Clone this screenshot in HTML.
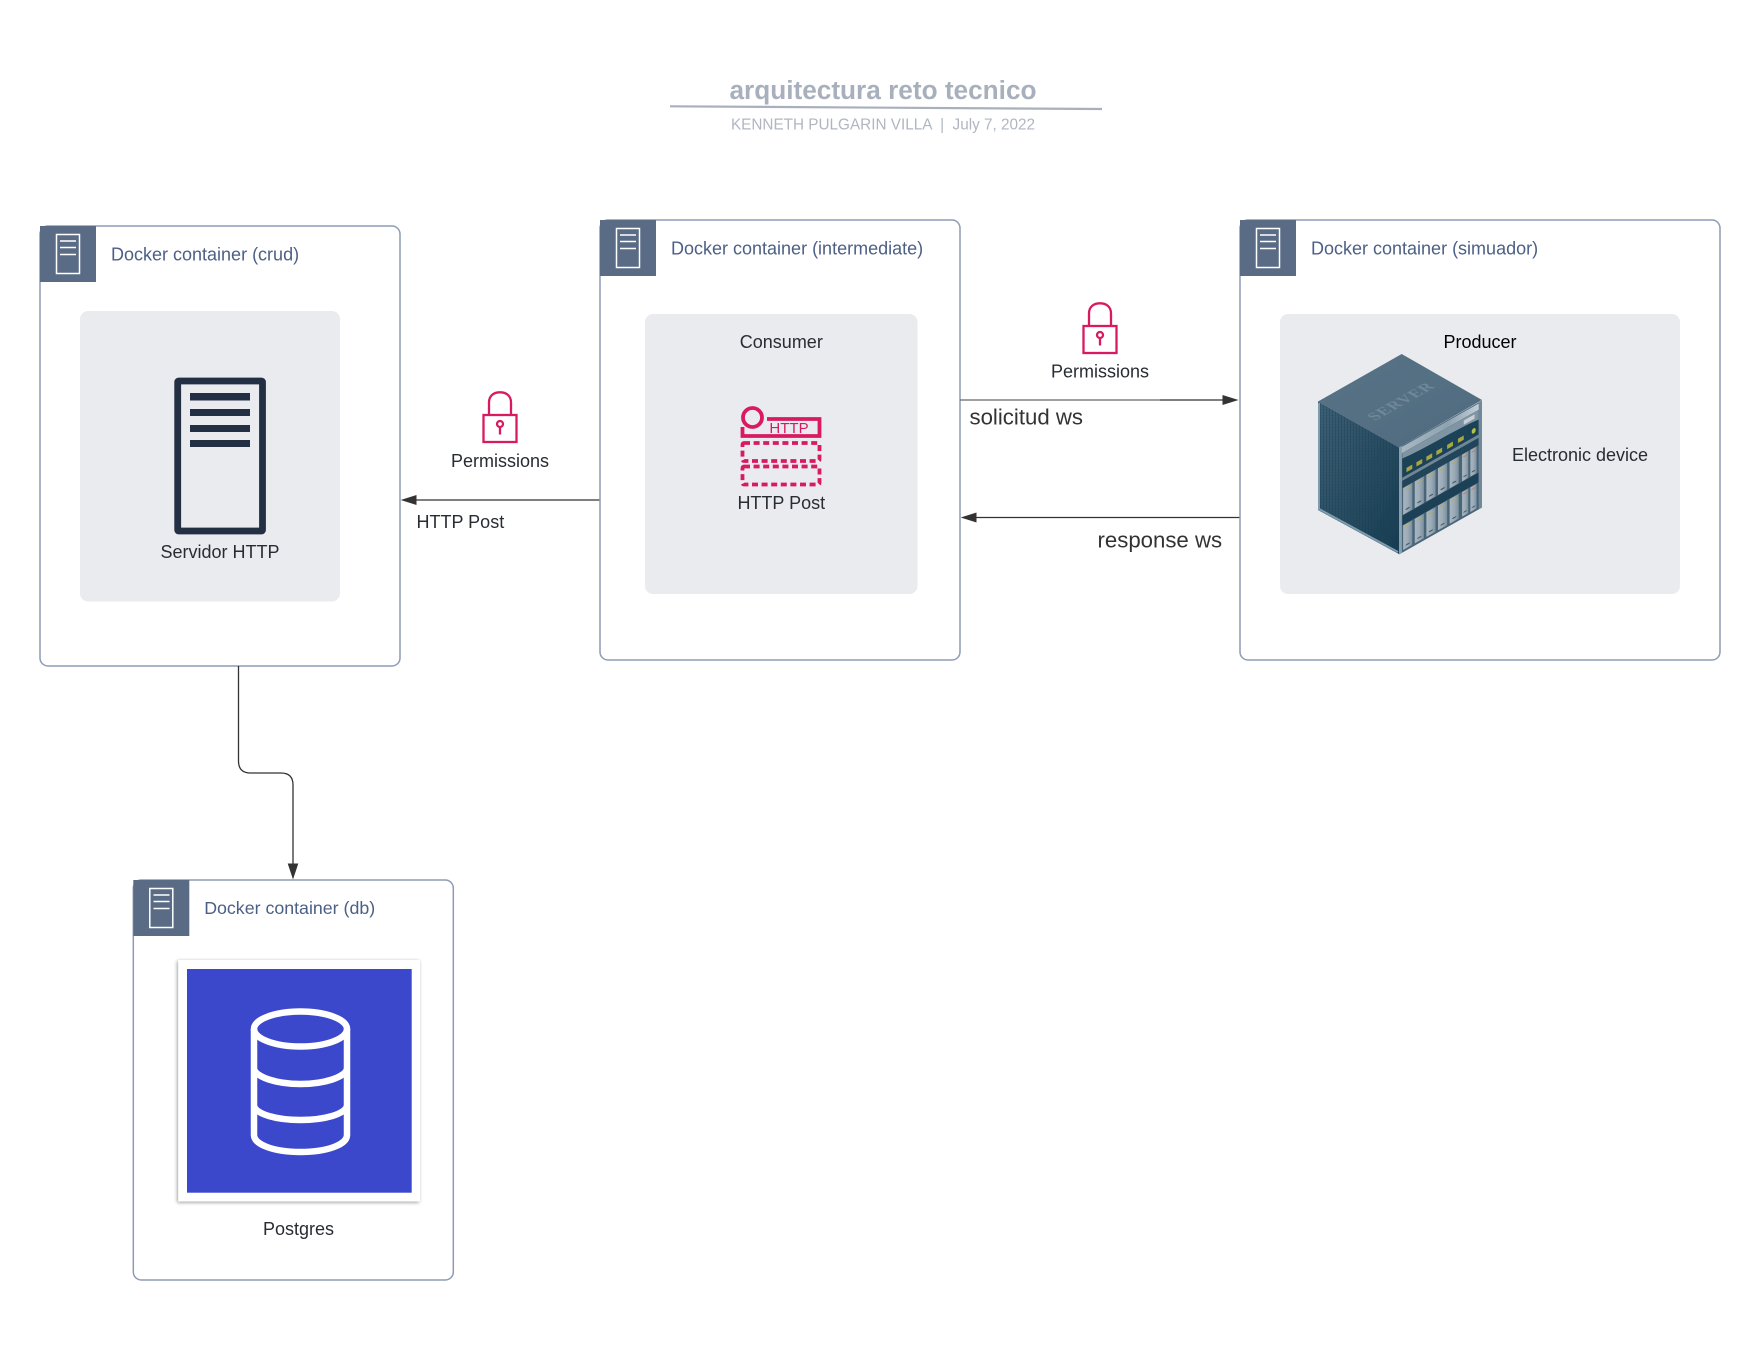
<!DOCTYPE html>
<html lang="en">
<head>
<meta charset="utf-8">
<title>arquitectura reto tecnico</title>
<style>
html,body{margin:0;padding:0;background:#fff;}
svg{display:block;}
text{font-family:"Liberation Sans",sans-serif;}
.hdr{font-size:18px;fill:#4c5f85;}
.lbl{font-size:18px;fill:#282c33;text-anchor:middle;}
.big{font-size:22.2px;fill:#333;}
.box{fill:#fff;stroke:#8e9bb7;stroke-width:1.5;}
.gray{fill:#e9ebef;}
.conn{fill:none;stroke:#333;stroke-width:1.3;}
.head{fill:#333;}
.lock{fill:none;stroke:#d81b60;stroke-width:2.3;}
.ic{fill:none;stroke:#fff;stroke-width:1.5;}
.hm{fill:#5a6b86;}
.h1{fill:none;stroke:#d81b60;stroke-width:3.8;}
.dash{fill:none;stroke:#d81b60;stroke-width:3.8;stroke-dasharray:6 3.6;}
</style>
</head>
<body>
<svg xmlns="http://www.w3.org/2000/svg" width="1760" height="1360" viewBox="0 0 1760 1360">
<defs>
<linearGradient id="gt" x1="0" y1="0" x2="1" y2="1"><stop offset="0" stop-color="#587386"/><stop offset="1" stop-color="#4f6b7f"/></linearGradient>
<linearGradient id="gl" x1="0" y1="0" x2="1" y2="1"><stop offset="0" stop-color="#3e6076"/><stop offset="1" stop-color="#163c52"/></linearGradient>
<linearGradient id="gb" x1="0" y1="0" x2="1" y2="0"><stop offset="0" stop-color="#a9b6c1"/><stop offset="0.5" stop-color="#9cabb8"/><stop offset="1" stop-color="#7b8f9e"/></linearGradient>
<linearGradient id="gs" x1="0" y1="0" x2="1" y2="0"><stop offset="0" stop-color="#a8b8c3"/><stop offset="0.6" stop-color="#8ea3b1"/><stop offset="1" stop-color="#c4d0d8"/></linearGradient>
<pattern id="pl" width="3" height="3" patternUnits="userSpaceOnUse"><rect width="1" height="3" fill="#1a3c50" opacity=".35"/><rect y="1.500" width="3" height=".6" fill="#1a3c50" opacity=".18"/></pattern>
<filter id="sh" x="-5%" y="-5%" width="110%" height="110%"><feDropShadow dx="-1" dy="1" stdDeviation="1.800" flood-color="#000" flood-opacity=".4"/></filter>
<filter id="soft" x="-2%" y="-2%" width="104%" height="104%"><feGaussianBlur stdDeviation=".35"/></filter>
<g id="bay"><rect x="0" y="0" width="11" height="100" fill="url(#gb)"/><rect x="2" y="10" width="7" height="3.500" fill="#b9ac4a"/><circle cx="5.500" cy="86" r="2.600" fill="#3f586a"/></g>
<g id="bayN"><rect x="0" y="0" width="7.500" height="100" fill="url(#gb)"/><rect x="1.500" y="10" width="4.500" height="3.500" fill="#c9773f"/><circle cx="3.700" cy="86" r="2.200" fill="#3f586a"/></g>
<g id="bays"><use href="#bay" x="0"/><use href="#bay" x="14"/><use href="#bay" x="28"/><use href="#bay" x="42"/><use href="#bay" x="56"/><use href="#bayN" x="71"/><use href="#bayN" x="81"/></g>
</defs>

<!-- title -->
<text x="883" y="99" font-size="26.200" font-weight="700" fill="#a9b0bd" text-anchor="middle">arquitectura reto tecnico</text>
<path d="M670 106.300 L1102 109" stroke="#a9b0bd" stroke-width="2.200" fill="none"/>
<text x="883" y="129.500" font-size="15.300" fill="#b0b6c1" text-anchor="middle" xml:space="preserve">KENNETH PULGARIN VILLA  |  July 7, 2022</text>

<!-- crud -->
<rect class="box" x="40" y="226" width="360" height="440" rx="8"/>
<rect class="hm" x="40" y="226" width="56" height="56"/>
<rect class="ic" x="56.500" y="234.500" width="23" height="39"/>
<path class="ic" d="M60 241H76M60 247.500H76M60 254.500H76"/>
<text class="hdr" x="111" y="260.500">Docker container (crud)</text>
<rect class="gray" x="80" y="311" width="260" height="290.500" rx="8"/>
<rect x="177.700" y="381" width="84.800" height="150" rx="1" fill="none" stroke="#232f42" stroke-width="6.800"/>
<g fill="#232f42"><rect x="190" y="393" width="60" height="7.500"/><rect x="190" y="409" width="60" height="7"/><rect x="190" y="425" width="60" height="7"/><rect x="190" y="440" width="60" height="7"/></g>
<text class="lbl" x="220" y="558">Servidor HTTP</text>

<!-- lock 1 -->
<g>
<rect class="lock" x="483.500" y="415" width="33" height="27"/>
<path class="lock" d="M489 415V402.500C489 395.500 494 392.300 500 392.300S511 395.500 511 402.500V415"/>
<circle class="lock" cx="500" cy="424" r="3"/><path class="lock" d="M500 427V434.500"/>
</g>
<text class="lbl" x="500" y="467">Permissions</text>

<!-- arrow to crud -->
<path class="conn" d="M600 500H416"/>
<path class="head" d="M400.700 500L416.500 495V505Z"/>
<text x="416.500" y="528" font-size="18" fill="#282c33">HTTP Post</text>

<!-- intermediate -->
<rect class="box" x="600" y="220" width="360" height="440" rx="8"/>
<rect class="hm" x="600" y="220" width="56" height="56"/>
<rect class="ic" x="616.500" y="228.500" width="23" height="39"/>
<path class="ic" d="M620 235H636M620 241.500H636M620 248.500H636"/>
<text class="hdr" x="671" y="254.500">Docker container (intermediate)</text>
<rect class="gray" x="645" y="314" width="272.500" height="280" rx="8"/>
<text class="lbl" x="781.300" y="348">Consumer</text>
<circle class="h1" cx="752.500" cy="417.500" r="9.500"/>
<path class="h1" d="M767 419H819.500V436H742.500V427"/>
<text x="789" y="433" font-size="15" fill="#d81b60" text-anchor="middle">HTTP</text>
<rect class="dash" x="742.500" y="443" width="77" height="18" rx="1.500"/>
<rect class="dash" x="742.500" y="466.500" width="77" height="18" rx="1.500"/>
<text class="lbl" x="781.300" y="509">HTTP Post</text>

<!-- lock 2 -->
<g transform="translate(600,-89)">
<rect class="lock" x="483.500" y="415" width="33" height="27"/>
<path class="lock" d="M489 415V402.500C489 395.500 494 392.300 500 392.300S511 395.500 511 402.500V415"/>
<circle class="lock" cx="500" cy="424" r="3"/><path class="lock" d="M500 427V434.500"/>
</g>
<text class="lbl" x="1100" y="377.500">Permissions</text>

<!-- ws arrows -->
<path d="M960 400H1160" stroke="#666" stroke-width="1.300" fill="none"/>
<path class="conn" d="M1160 400H1224"/>
<path class="head" d="M1238.500 400L1222.500 395V405Z"/>
<text class="big" x="969.500" y="424.500">solicitud ws</text>
<path class="conn" d="M1240 517.500H976"/>
<path class="head" d="M960.700 517.500L976.500 512.500V522.500Z"/>
<text class="big" x="1097.500" y="547.500">response ws</text>

<!-- simulador -->
<rect class="box" x="1240" y="220" width="480" height="440" rx="8"/>
<rect class="hm" x="1240" y="220" width="56" height="56"/>
<rect class="ic" x="1256.500" y="228.500" width="23" height="39"/>
<path class="ic" d="M1260 235H1276M1260 241.500H1276M1260 248.500H1276"/>
<text class="hdr" x="1311" y="254.500">Docker container (simuador)</text>
<rect class="gray" x="1280" y="314" width="400" height="280" rx="8"/>
<text x="1480" y="348" font-size="18" fill="#000" text-anchor="middle">Producer</text>
<text class="lbl" x="1580" y="461">Electronic device</text>

<!-- server cube -->
<g filter="url(#soft)">
  <polygon points="1401.700,354 1482,400 1399,447.500 1318,401.500" fill="url(#gt)"/>
  <text transform="matrix(0.87,-0.49,0.87,0.49,1375,421)" font-size="16" letter-spacing="1" fill="#6f8899" font-weight="700" style="font-family:'Liberation Serif',serif">SERVER</text>
  <polygon points="1318,401.500 1399,447.500 1399,554 1318,510" fill="url(#gl)"/>
  <polygon points="1318,401.500 1399,447.500 1399,554 1318,510" fill="url(#pl)"/>
  <path d="M1319 403V509L1398 552" fill="none" stroke="#7f9bad" stroke-width="2"/>
  <g transform="matrix(0.83,-0.47,0,1.07,1399,447.500)">
    <rect x="0" y="0" width="100" height="100" fill="#4a6679"/>
    <rect x="3" y="1" width="94" height="6" fill="url(#gs)"/>
    <rect x="4" y="7" width="92" height="23" fill="#1f4258"/>
    <path d="M4 7H96V16C70 13 30 15 4 12Z" fill="#7f95a4"/>
    <rect x="78" y="9" width="13" height="4" fill="#c8d0d6"/>
    <g fill="#a9a63f">
      <rect x="9" y="23" width="7" height="4"/><rect x="21" y="23" width="7" height="4"/><rect x="33" y="23" width="7" height="4"/>
      <rect x="45" y="23" width="7" height="4"/><rect x="58" y="23" width="7" height="4"/><rect x="71" y="23" width="7" height="4"/>
    </g>
    <circle cx="90" cy="24" r="2.400" fill="#b9c13f"/>
    <rect x="4" y="30" width="92" height="3" fill="#6f8797"/>
    <rect x="4" y="33" width="92" height="7" fill="#21455a"/>
    <g transform="translate(5,40) scale(1,.25)"><use href="#bays"/></g>
    <rect x="4" y="65.500" width="92" height="9" fill="#1d3f54"/>
    <g transform="translate(5,75) scale(1,.23)"><use href="#bays"/></g>
    <rect x="0" y="0" width="3.500" height="100" fill="#8aa0ae"/>
    <rect x="96" y="0" width="4" height="100" fill="#6f8899"/>
  </g>
</g>

<!-- connector to db -->
<path class="conn" d="M238.500 666V761Q238.500 773 250.500 773H281Q293 773 293 785V866"/>
<path class="head" d="M293 879.500L287.700 863.500H298.300Z"/>

<!-- db -->
<rect class="box" x="133.300" y="880" width="320" height="400" rx="8"/>
<rect class="hm" x="133.300" y="880" width="56" height="56"/>
<rect class="ic" x="149.800" y="888.500" width="23" height="39"/>
<path class="ic" d="M153.500 895H169.500M153.500 901.500H169.500M153.500 908.500H169.500"/>
<text class="hdr" x="204.200" y="914" font-size="17.800" style="font-size:17.8px">Docker container (db)</text>
<rect x="178.300" y="960" width="241.700" height="241.500" fill="#fff" filter="url(#sh)"/>
<rect x="187" y="969" width="224.700" height="223.700" fill="#3b48cc"/>
<g fill="none" stroke="#fff" stroke-width="6.500">
  <ellipse cx="300.500" cy="1029" rx="46.500" ry="17.500"/>
  <path d="M254 1029V1135C254 1145 275 1152 300.500 1152S347 1145 347 1135V1029"/>
  <path d="M254 1069C256 1077 276 1084 300.500 1084S345 1077 347 1069"/>
  <path d="M254 1106C256 1114 276 1120 300.500 1120S345 1114 347 1106"/>
</g>
<text class="lbl" x="298.500" y="1235">Postgres</text>
</svg>
</body>
</html>
